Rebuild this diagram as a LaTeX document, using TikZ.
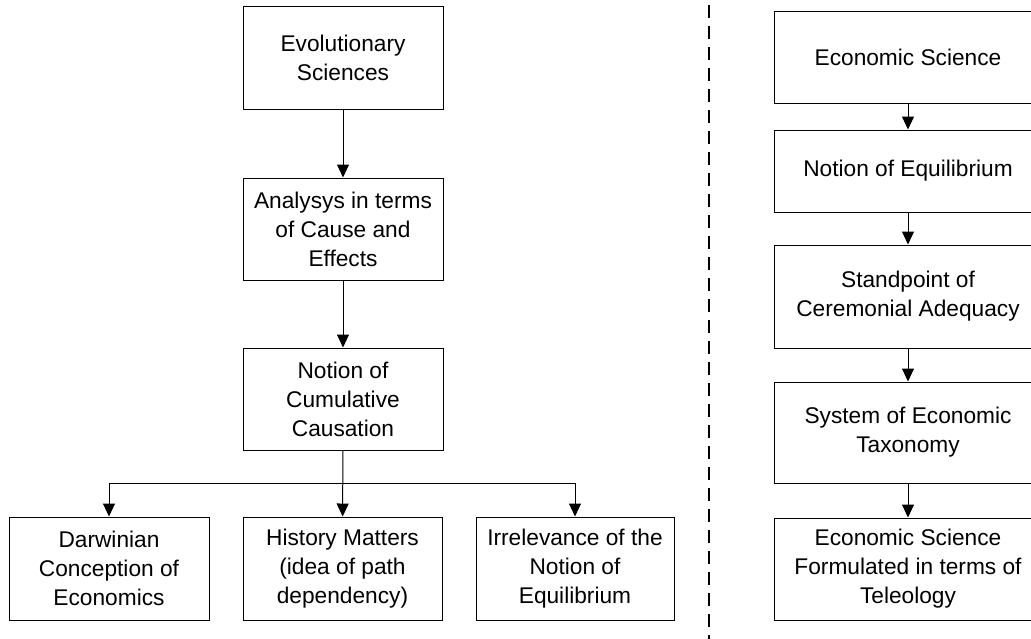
\documentclass[tikz,border=0pt]{standalone}
\usepackage{fontspec}
\setmainfont{Liberation Sans}
\usetikzlibrary{arrows.meta}
\tikzset{
  box/.style={draw=black, line width=1pt, inner sep=0pt, align=center,
    font=\fontsize{22.7}{29}\selectfont},
  lbox/.style={box, minimum width=200pt, minimum height=103pt},
  rbox/.style={box, minimum width=268pt},
  arr/.style={line width=1pt, -{Triangle[length=13pt,width=12pt]}},
  sep/.style={line width=2pt, dash pattern=on 13pt off 8pt}
}
\begin{document}
\begin{tikzpicture}[x=1pt,y=-1pt]
\useasboundingbox (0,0) rectangle (1031,638);
\clip (0,0) rectangle (1031,638);
\fill[white] (0,0) rectangle (1031,638);
% left column
\node[lbox] (evo) at (343,57.5) {Evolutionary\\Sciences};
\node[lbox, minimum height=102pt] (ana) at (343,229) {Analysys in terms\\of Cause and\\Effects};
\node[lbox, minimum height=102pt] (cum) at (343,399) {Notion of\\Cumulative\\Causation};
\node[lbox] (dar) at (109,568.5) {Darwinian\\Conception of\\Economics};
\node[lbox, minimum width=199pt] (his) at (342.5,568.5) {History Matters\\(idea of path\\dependency)};
\node[lbox, minimum width=198pt] (irr) at (575,568.5) {Irrelevance of the\\Notion of\\Equilibrium};
\coordinate (j) at (343,483);
\draw[arr] (evo) -- (ana);
\draw[arr] (ana) -- (cum);
\draw[arr] (cum) -- (his);
\draw[arr] (j) -| (dar);
\draw[arr] (j) -| (irr);
% separator
\coordinate (s1) at (709,5);
\coordinate (s2) at (709,640);
\draw[sep] (s1) -- (s2);
% right column
\node[rbox, minimum height=92pt] (es) at (908,57) {Economic Science};
\node[rbox, minimum height=82pt] (ne) at (908,171) {Notion of Equilibrium};
\node[rbox, minimum height=103pt] (sp) at (908,296.5) {Standpoint of\\Ceremonial Adequacy};
\node[rbox, minimum height=101pt] (sy) at (908,432.5) {System of Economic\\Taxonomy};
\node[rbox, minimum height=102pt] (fo) at (908,569) {Economic Science\\Formulated in terms of\\Teleology};
\draw[arr] (es) -- (ne);
\draw[arr] (ne) -- (sp);
\draw[arr] (sp) -- (sy);
\draw[arr] (sy) -- (fo);
\end{tikzpicture}
\end{document}
